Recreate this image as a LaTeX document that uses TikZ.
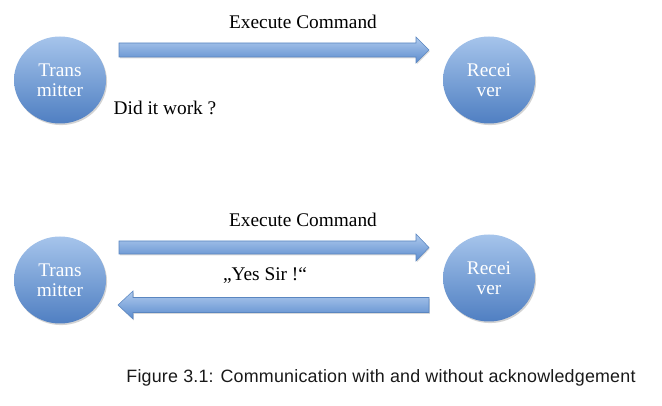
\documentclass[tikz,border=0pt]{standalone}
\usepackage{fontspec}
\setmainfont{Liberation Serif}
\newfontfamily\capfont{Liberation Sans}[LetterSpace=1.2]
\usetikzlibrary{shapes.geometric,shadows}
\definecolor{ctop}{HTML}{A6C4EB}
\definecolor{cbot}{HTML}{4F7FC2}
\definecolor{atop}{HTML}{B0CBEE}
\definecolor{abot}{HTML}{5B8BCD}
\definecolor{aedge}{HTML}{5A86C0}
\begin{document}
\begin{tikzpicture}[x=0.75pt,y=-0.75pt]
\useasboundingbox (0,0) rectangle (662,406);
\tikzset{
  station/.style={ellipse, minimum width=92*0.75pt, minimum height=87*0.75pt,
    inner sep=0pt, top color=ctop, bottom color=cbot, text=white, align=center,
    font=\fontsize{14.5}{15}\selectfont,
    drop shadow={shadow xshift=0.8pt, shadow yshift=-1.2pt, opacity=0.35}},
  blockarrow/.style={top color=atop, bottom color=abot,
    draw=aedge, line width=0.4pt,
    drop shadow={shadow xshift=0.6pt, shadow yshift=-1pt, opacity=0.3}},
  lbl/.style={font=\fontsize{14.5}{16}\selectfont, text=black, inner sep=0pt},
  caption/.style={font=\capfont\fontsize{13.4}{16}\selectfont, text=black!90, inner sep=0pt}
}
% top scenario
\node[station] (t1) at (60,80) {Trans\\mitter};
\node[station] (r1) at (489,80) {Recei\\ver};
\path[blockarrow] (119,43) -- (416,43) -- (416,37) -- (429,50) -- (416,63) -- (416,57) -- (119,57) -- cycle;
\node[lbl] (l1) at (303,22) {Execute Command};
\node[lbl] (q1) at (165,108) {Did it work ?};
% bottom scenario
\node[station] (t2) at (60,280) {Trans\\mitter};
\node[station] (r2) at (489,278) {Recei\\ver};
\path[blockarrow] (119,241) -- (416,241) -- (416,234) -- (429,247.5) -- (416,261) -- (416,254) -- (119,254) -- cycle;
\path[blockarrow] (429,297.5) -- (133,297.5) -- (133,291) -- (118,305) -- (133,319) -- (133,312.5) -- (429,312.5) -- cycle;
\node[lbl] (l2) at (303,220) {Execute Command};
\node[lbl] (l3) at (265,276) {„Yes Sir !“};
% caption
\node[caption] (cap) at (381,378) {Figure 3.1: Communication with and without acknowledgement};
\end{tikzpicture}
\end{document}
